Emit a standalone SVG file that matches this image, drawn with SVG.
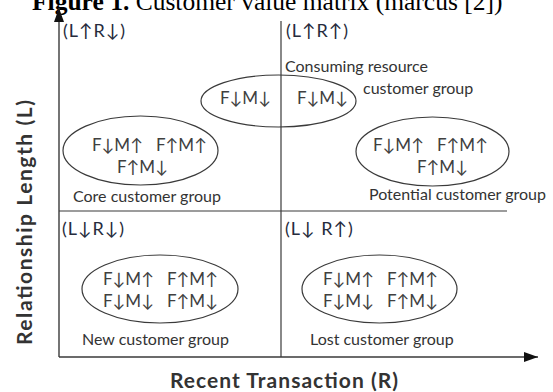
<svg xmlns="http://www.w3.org/2000/svg" width="553" height="392" viewBox="0 0 553 392">
  <style>
    .title { font-family: "Liberation Serif", "Times New Roman", serif; font-size: 25.5px; fill: #000; }
    .title .b { font-weight: bold; }
    .axis { stroke: #3a3a3a; stroke-width: 1.4; fill: none; }
    .grid { stroke: #3a3a3a; stroke-width: 1.2; fill: none; }
    .oval { stroke: #3a3a3a; stroke-width: 1.2; fill: none; }
    .quad { font-family: Lato, "Liberation Sans", sans-serif; font-size: 18px; letter-spacing: 1px; fill: #262b3c; }
    .fm { font-family: Lato, "Liberation Sans", sans-serif; font-size: 17px; fill: #404040; }
    .cap { font-family: Lato, "Liberation Sans", sans-serif; font-size: 16px; fill: #333; }
    .axlabel { font-family: Lato, "Liberation Sans", sans-serif; font-size: 21px; font-weight: bold; fill: #333; }
  </style>
  <defs>
    <marker id="head" viewBox="0 0 14 10" refX="14" refY="5" markerWidth="14" markerHeight="10" markerUnits="userSpaceOnUse" orient="auto">
      <path d="M0,0 L14,5 L0,10 Z" fill="#111"/>
    </marker>
  </defs>

  <!-- caption -->
  <text class="title" x="32" y="10"><tspan class="b">Figure 1.</tspan> Customer value matrix (marcus [2])</text>

  <!-- axes and quadrant dividers -->
  <g id="connectors">
    <line class="axis" x1="59" y1="357" x2="59" y2="8" marker-end="url(#head)"/>
    <line class="axis" x1="59" y1="357" x2="538" y2="357" marker-end="url(#head)"/>
    <line class="grid" x1="281" y1="21" x2="281" y2="357"/>
    <line class="grid" x1="59" y1="211" x2="507" y2="211"/>
  </g>

  <!-- axis titles -->
  <text class="axlabel" x="170" y="388" textLength="228" lengthAdjust="spacing">Recent Transaction (R)</text>
  <text class="axlabel" transform="translate(32,345) rotate(-90)" textLength="245" lengthAdjust="spacing">Relationship Length (L)</text>

  <!-- quadrant headings -->
  <text class="quad" x="63" y="37">(L↑R↓)</text>
  <text class="quad" x="286" y="37">(L↑R↑)</text>
  <text class="quad" x="62" y="235">(L↓R↓)</text>
  <text class="quad" x="285" y="235">(L↓ R↑)</text>

  <!-- consuming resource customer group (straddles the divider) -->
  <g id="consuming">
    <ellipse class="oval" cx="278.5" cy="101" rx="77.5" ry="26"/>
    <text class="fm" x="220" y="104">F↓M↓</text>
    <text class="fm" x="297" y="104">F↓M↓</text>
    <text class="cap" x="285" y="72">Consuming resource</text>
    <text class="cap" x="363" y="94">customer group</text>
  </g>

  <!-- core customer group -->
  <g id="core">
    <ellipse class="oval" cx="140.5" cy="150.5" rx="77.5" ry="34.5"/>
    <text class="fm" x="92" y="151">F↓M↑</text>
    <text class="fm" x="156" y="151">F↑M↑</text>
    <text class="fm" x="117" y="173">F↑M↓</text>
    <text class="cap" x="73" y="202">Core customer group</text>
  </g>

  <!-- potential customer group -->
  <g id="potential">
    <ellipse class="oval" cx="432.5" cy="151.5" rx="76.5" ry="34.5"/>
    <text class="fm" x="373" y="151">F↓M↑</text>
    <text class="fm" x="437" y="151">F↑M↑</text>
    <text class="fm" x="417" y="173">F↑M↓</text>
    <text class="cap" x="369" y="200">Potential customer group</text>
  </g>

  <!-- new customer group -->
  <g id="new">
    <ellipse class="oval" cx="160" cy="289" rx="78" ry="34"/>
    <text class="fm" x="103" y="285">F↓M↑</text>
    <text class="fm" x="167" y="285">F↑M↑</text>
    <text class="fm" x="103" y="307">F↓M↓</text>
    <text class="fm" x="167" y="307">F↑M↓</text>
    <text class="cap" x="82" y="345">New customer group</text>
  </g>

  <!-- lost customer group -->
  <g id="lost">
    <ellipse class="oval" cx="379.5" cy="289" rx="77.5" ry="34"/>
    <text class="fm" x="323" y="285">F↓M↑</text>
    <text class="fm" x="387" y="285">F↑M↑</text>
    <text class="fm" x="323" y="307">F↓M↓</text>
    <text class="fm" x="387" y="307">F↑M↓</text>
    <text class="cap" x="310" y="345">Lost customer group</text>
  </g>
</svg>
